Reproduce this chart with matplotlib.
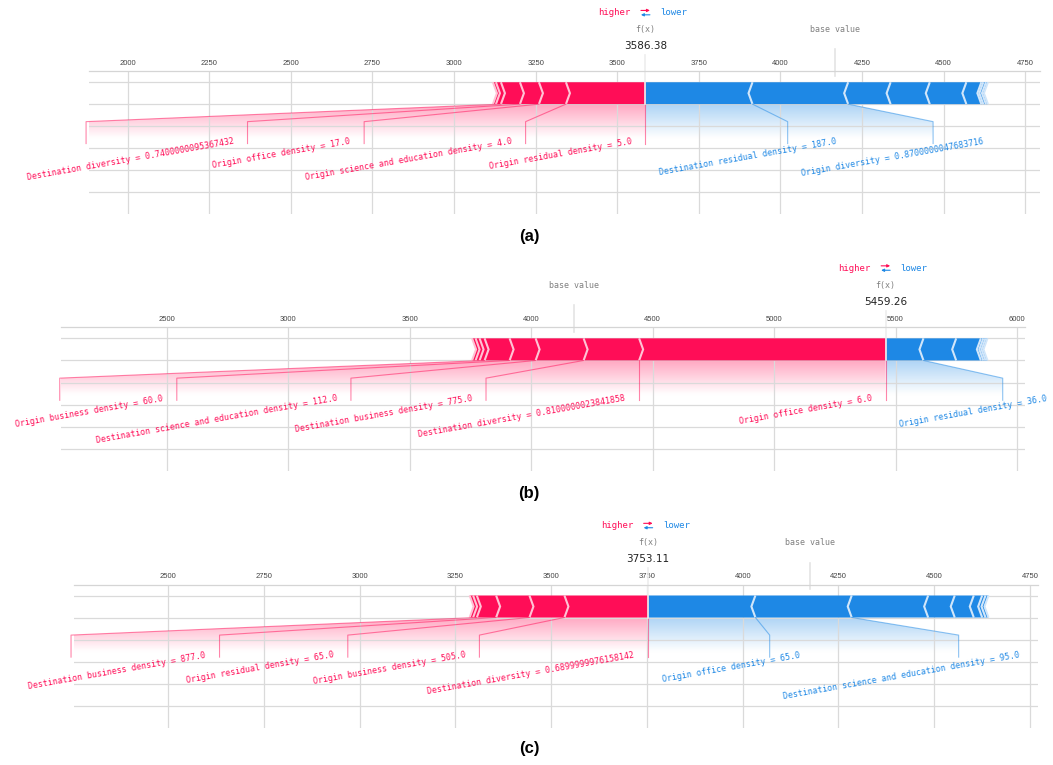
import numpy as np
import matplotlib

matplotlib.use("Agg")
import matplotlib.pyplot as plt
from matplotlib import font_manager, lines
from matplotlib.colors import LinearSegmentedColormap
from matplotlib.patches import FancyArrowPatch, PathPatch, Polygon
from matplotlib.path import Path

# ---- data: model output f(x) and SHAP contributions, ordered from f(x) outwards ----
OUT_A = 3586.38
POS_A = [243.5, 82.7, 58.2, 58.2, 15.3, 9.2]
POS_A_NAMES = [
    "Origin residual density = 5.0",
    "Origin science and education density = 4.0",
    "Origin office density = 17.0",
    "Destination diversity = 0.7400000095367432",
    "",
    "",
]
NEG_A = [328.0, 293.0, 130.0, 120.0, 112.0, 46.0, 6.0, 8.0, 6.0]
NEG_A_NAMES = [
    "Destination residual density = 187.0",
    "Origin diversity = 0.8700000047683716",
    "", "", "", "", "", "", "",
]

OUT_B = 5459.26
POS_B = [1015.0, 228.6, 197.6, 107.1, 103.0, 20.6, 16.5, 14.4]
POS_B_NAMES = [
    "Origin office density = 6.0",
    "Destination diversity = 0.8100000023841858",
    "Destination business density = 775.0",
    "Destination science and education density = 112.0",
    "Origin business density = 60.0",
    "", "", "",
]
NEG_B = [155.7, 134.7, 101.7, 10.0, 9.0, 8.0]
NEG_B_NAMES = ["Origin residual density = 36.0", "", "", "", "", ""]

OUT_C = 3753.11
POS_C = [218.6, 91.4, 87.0, 50.4, 9.7, 9.0]
POS_C_NAMES = [
    "Destination diversity = 0.6899999976158142",
    "Origin business density = 505.0",
    "Origin residual density = 65.0",
    "Destination business density = 877.0",
    "",
    "",
]
NEG_C = [280.0, 251.5, 199.6, 69.4, 49.7, 21.9, 8.7, 7.8]
NEG_C_NAMES = [
    "Origin office density = 65.0",
    "Destination science and education density = 95.0",
    "", "", "", "", "", "",
]

TAGS = ["(a)", "(b)", "(c)"]

# ---- layout ----
FIG_W, FIG_H = 1053, 765
AX_PX = [(89, 71.3, 1040, 213.6), (61, 327.3, 1025, 471.0), (74.4, 584.5, 1038, 727.5)]
XLIMS = [(1882, 4795), (2064, 6033), (2255, 4771)]
SQUEEZE = [0.65, 0.61, 0.685]
TAG_Y = [236, 493, 748]
OFFSET_PX = 13.0
SEP_PX = 4.0
BAR_W = 0.1
ROT = 10

RED, RED_LIGHT = "#FF0D57", "#FFC3D5"
BLUE, BLUE_LIGHT = "#1E88E5", "#D1E6FA"
MONO = "DejaVu Sans Mono"
_installed = {f.name for f in font_manager.fontManager.ttflist}
TICK_FONT = "Liberation Sans Narrow" if "Liberation Sans Narrow" in _installed else "Liberation Sans"


def draw_bars(ax, out_value, bounds, kind, indent):
    color, light = (RED, RED_LIGHT) if kind == "pos" else (BLUE, BLUE_LIGHT)
    indent = abs(indent) if kind == "pos" else -abs(indent)
    pre = out_value
    rects, seps = [], []
    for i, b in enumerate(bounds):
        if kind == "pos":
            lo, hi, sep = b, pre, b
        else:
            lo, hi, sep = pre, b, b
        pre = b
        if i == 0:
            if kind == "pos":
                pts = [[lo, 0], [hi, 0], [hi, BAR_W], [lo, BAR_W], [lo + indent, BAR_W / 2]]
            else:
                pts = [[hi, 0], [lo, 0], [lo, BAR_W], [hi, BAR_W], [hi + indent, BAR_W / 2]]
        else:
            pts = [[lo, 0], [hi, 0], [hi + indent * 0.9, BAR_W / 2], [hi, BAR_W],
                   [lo, BAR_W], [lo + indent * 0.9, BAR_W / 2]]
        rects.append(Polygon(pts, closed=True, facecolor=color, linewidth=0, zorder=1))
        seps.append(Polygon([[sep, 0], [sep + indent, BAR_W / 2], [sep, BAR_W]],
                            closed=False, fill=False, edgecolor=light, lw=1.5, zorder=1.1))
    for p in rects + seps:
        ax.add_patch(p)


def draw_labels(ax, renderer, out_value, bounds, names, kind, offset, upp, squeeze):
    pos = kind == "pos"
    sign = 1 if pos else -1
    color = RED if pos else BLUE
    if pos:
        ax.add_line(lines.Line2D([out_value, out_value], [0, -0.18], lw=0.8, alpha=0.5,
                                 color=color, clip_on=False))
    start = out_value
    pre = out_value
    box_end = out_value
    for val, name in zip(bounds, names):
        if not name:
            break
        anchor = start - sign * offset
        t = ax.text(anchor, -0.15, name, fontsize=6, family=MONO, color=color,
                    ha="right" if pos else "left", va="top", rotation=ROT)
        width = t.get_window_extent(renderer).width * squeeze * upp
        edge = anchor - sign * width
        if sign * edge > sign * val:
            ax.add_line(lines.Line2D([val, val], [0, -0.18], lw=0.8, alpha=0.5,
                                     color=color, clip_on=False))
            start = box_end = val
        else:
            box_end = edge - sign * offset
            ax.add_line(lines.Line2D([val, box_end, box_end], [0, -0.08, -0.18], lw=0.8,
                                     alpha=0.5, color=color, clip_on=False))
            start = box_end
        pre = val

    path = Path([[out_value, 0], [pre, 0], [box_end, -0.08], [box_end, -0.2],
                 [out_value, -0.2], [out_value, 0]])
    patch = PathPatch(path, facecolor="none", edgecolor="none")
    ax.add_patch(patch)
    rgb = np.array([(255, 13, 87), (255, 255, 255)]) / 255.0 if pos else \
        np.array([(30, 136, 229), (255, 255, 255)]) / 255.0
    cm = LinearSegmentedColormap.from_list("shade", rgb)
    _, z = np.meshgrid(np.linspace(0, 10), np.linspace(-10, 10))
    im = ax.imshow(z, interpolation="quadric", cmap=cm, vmax=0.01, alpha=0.36, origin="lower",
                   extent=[out_value, box_end, 0, -0.31], aspect="auto", zorder=0)
    im.set_clip_path(patch)


def small_arrow(ax, x_from, x_to, y, color):
    arr = FancyArrowPatch((x_from, y), (x_to, y), arrowstyle="-|>", mutation_scale=4,
                          color=color, lw=0.8, clip_on=False, shrinkA=0, shrinkB=0)
    ax.add_patch(arr)


def draw_panel(fig, renderer, idx, out_value, pos, pos_names, neg, neg_names):
    left, top, right, bottom = AX_PX[idx]
    ax = fig.add_axes([left / FIG_W, 1 - bottom / FIG_H, (right - left) / FIG_W, (bottom - top) / FIG_H])
    x0, x1 = XLIMS[idx]
    ax.set_xlim(x0, x1)
    ax.set_ylim(-0.5, 0.15)
    ax.set_axisbelow(True)
    upp = (x1 - x0) / (right - left)
    offset = OFFSET_PX * upp

    pos_bounds = out_value - np.cumsum(pos)
    neg_bounds = out_value + np.cumsum(neg)
    base_value = out_value - np.sum(pos) + np.sum(neg)

    draw_bars(ax, out_value, neg_bounds, "neg", SEP_PX * upp)
    draw_bars(ax, out_value, pos_bounds, "pos", SEP_PX * upp)
    draw_labels(ax, renderer, out_value, neg_bounds, neg_names, "neg", offset, upp, SQUEEZE[idx])
    draw_labels(ax, renderer, out_value, pos_bounds, pos_names, "pos", offset, upp, SQUEEZE[idx])

    # higher / lower legend
    hl_off = 15 * upp
    ax.text(out_value - hl_off, 0.405, "higher", fontsize=6.5, family=MONO, color=RED, ha="right")
    ax.text(out_value + hl_off, 0.405, "lower", fontsize=6.5, family=MONO, color=BLUE, ha="left")
    small_arrow(ax, out_value - 4.5 * upp, out_value + 4.5 * upp, 0.428, RED)
    small_arrow(ax, out_value + 4.5 * upp, out_value - 4.5 * upp, 0.408, BLUE)

    # base value
    ax.add_line(lines.Line2D([base_value, base_value], [0.13, 0.25], lw=1.2, color="#E4E4E4",
                             clip_on=False, zorder=2))
    ax.text(base_value, 0.33, "base value", fontsize=6, family=MONO, alpha=0.5, ha="center",
            bbox=dict(facecolor="white", edgecolor="white", pad=1))

    # output value
    ax.add_line(lines.Line2D([out_value, out_value], [0, 0.24], lw=1.2, color="#EEEEEE",
                             clip_on=False, zorder=2))
    ax.text(out_value, 0.25, f"{out_value:.2f}", fontsize=7.5, family="DejaVu Sans", ha="center",
            color="#222222", bbox=dict(facecolor="white", edgecolor="white", pad=1), zorder=3)
    ax.text(out_value, 0.33, "f(x)", fontsize=6, family=MONO, alpha=0.5, ha="center",
            bbox=dict(facecolor="white", edgecolor="white", pad=1), zorder=3)

    # axis styling
    ax.locator_params(axis="x", nbins=12)
    ax.set_yticks([-0.4, -0.3, -0.2, -0.1, 0.0, 0.1])
    ax.tick_params(top=True, bottom=False, left=False, right=False, labelleft=False,
                   labeltop=True, labelbottom=False, length=0, pad=3, labelsize=5.5,
                   labelcolor="#444444")
    for lab in ax.get_xticklabels():
        lab.set_family(TICK_FONT)
    ax.grid(True, color="#DADADA", lw=0.9)
    for key, spine in ax.spines.items():
        if key != "top":
            spine.set_visible(False)
        else:
            spine.set_color("#D5D5D5")
            spine.set_linewidth(0.9)
    ax.set_xlim(x0, x1)
    ax.set_ylim(-0.5, 0.15)
    return ax


fig = plt.figure(figsize=(FIG_W / 100, FIG_H / 100), dpi=100)
renderer = fig.canvas.get_renderer()

panels = [
    (OUT_A, POS_A, POS_A_NAMES, NEG_A, NEG_A_NAMES),
    (OUT_B, POS_B, POS_B_NAMES, NEG_B, NEG_B_NAMES),
    (OUT_C, POS_C, POS_C_NAMES, NEG_C, NEG_C_NAMES),
]
for i, (out_value, pos, pos_names, neg, neg_names) in enumerate(panels):
    draw_panel(fig, renderer, i, out_value, pos, pos_names, neg, neg_names)
    fig.text(529 / FIG_W, 1 - TAG_Y[i] / FIG_H, TAGS[i], fontsize=12, fontweight="bold",
             family="Liberation Sans", ha="center", va="center")

fig.savefig("out.png", dpi=100)
